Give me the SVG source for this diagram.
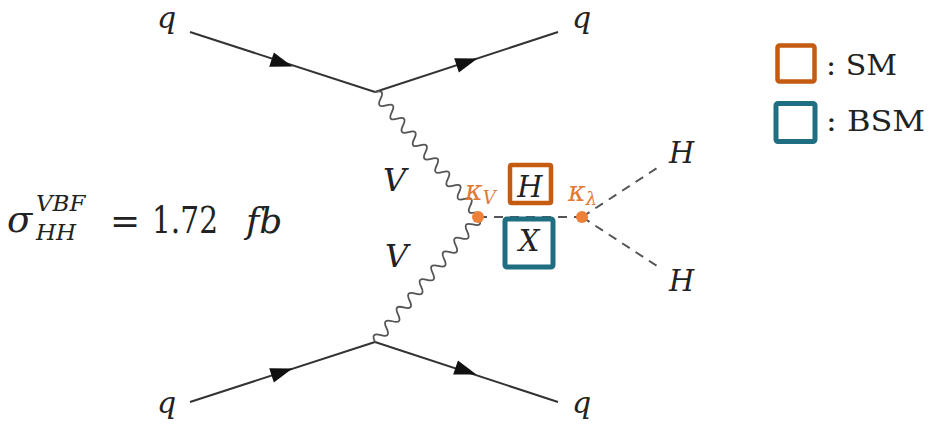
<svg xmlns="http://www.w3.org/2000/svg" width="930" height="425" viewBox="0 0 930 425">
<defs>
<style>
.fermion{stroke:#333;stroke-width:2;fill:none}
.boson{stroke:#555;stroke-width:1.8;fill:none}
.scalar{stroke:#555;stroke-width:2;fill:none;stroke-dasharray:9 7}
.lbl{font-family:"DejaVu Serif",serif;font-style:italic;fill:#222}
.rom{font-family:"DejaVu Serif",serif;fill:#222}
.kap{font-family:"DejaVu Serif",serif;font-style:italic;fill:#E07A35}
.leg{font-family:"DejaVu Serif",serif;fill:#222;font-size:28px}
.vtx{fill:#EE8038}
</style>
<path id="arr" d="M11,0 L-11,-7.5 L-11,7.5 Z" fill="#111"/>
</defs>
<g id="connectors">
<line class="fermion" x1="190" y1="32" x2="375" y2="92"/>
<line class="fermion" x1="375" y1="92" x2="558" y2="32"/>
<line class="fermion" x1="190" y1="402" x2="375" y2="342"/>
<line class="fermion" x1="375" y1="342" x2="558" y2="402"/>
<use href="#arr" transform="translate(282,63) rotate(18)"/>
<use href="#arr" transform="translate(467,62) rotate(-18.2)"/>
<use href="#arr" transform="translate(282,372) rotate(-18)"/>
<use href="#arr" transform="translate(466,371) rotate(18.6)"/>
<path class="boson" transform="translate(375,92) rotate(50)" d="M0,0 q4.36,-10 8.72,0 t8.72,0 t8.72,0 t8.72,0 t8.72,0 t8.72,0 t8.72,0 t8.72,0 t8.72,0 t8.72,0 t8.72,0 t8.72,0 t8.72,0 t8.72,0 t8.72,0 t8.72,0 t8.72,0 t8.72,0"/>
<path class="boson" transform="translate(375,342) rotate(-50.2)" d="M0,0 q4.5,-10 9,0 t9,0 t9,0 t9,0 t9,0 t9,0 t9,0 t9,0 t9,0 t9,0 t9,0 t9,0 t9,0 t9,0 t9,0 t9,0 t9,0 t9,0"/>
<line class="scalar" x1="478" y1="217" x2="582" y2="217"/>
<line class="scalar" x1="582" y1="217" x2="657" y2="168"/>
<line class="scalar" x1="582" y1="217" x2="657" y2="266"/>
</g>
<g id="quarks">
<text class="lbl" x="157" y="28" font-size="30">q</text>
<text class="lbl" x="572" y="28" font-size="30">q</text>
<text class="lbl" x="157" y="413" font-size="30">q</text>
<text class="lbl" x="572" y="413" font-size="30">q</text>
</g>
<g id="bosons">
<text class="lbl" x="383" y="191" font-size="32">V</text>
<text class="lbl" x="385" y="267" font-size="32">V</text>
</g>
<g id="vertex-v">
<circle class="vtx" cx="478" cy="217" r="6"/>
<text class="kap" x="465" y="200" font-size="27">κ<tspan font-size="18" dy="4">V</tspan></text>
</g>
<g id="vertex-lambda">
<circle class="vtx" cx="582" cy="217" r="6"/>
<text class="kap" x="568" y="201" font-size="27">κ<tspan font-size="18" dy="4">λ</tspan></text>
</g>
<g id="box-h">
<rect x="510" y="165" width="41" height="38" fill="none" stroke="#C55A11" stroke-width="4.5" rx="1.5"/>
<text class="lbl" x="530" y="197" font-size="29" text-anchor="middle">H</text>
</g>
<g id="box-x">
<rect x="505" y="219" width="48" height="48" fill="none" stroke="#1F6E82" stroke-width="5" rx="2"/>
<text class="lbl" x="529" y="251" font-size="29" text-anchor="middle">X</text>
</g>
<g id="higgs">
<text class="lbl" x="669" y="163" font-size="29">H</text>
<text class="lbl" x="669" y="291" font-size="29">H</text>
</g>
<g id="legend">
<rect x="777.5" y="45.5" width="37" height="36" fill="none" stroke="#C55A11" stroke-width="4.5" rx="2"/>
<text class="leg" x="826" y="75" textLength="71" lengthAdjust="spacingAndGlyphs">: SM</text>
<rect x="776" y="103.5" width="39" height="38" fill="none" stroke="#1F6E82" stroke-width="5" rx="2"/>
<text class="leg" x="826" y="131" textLength="99" lengthAdjust="spacingAndGlyphs">: BSM</text>
</g>
<g id="formula">
<text class="lbl" x="7" y="232" font-size="37">σ</text>
<text class="lbl" x="36" y="211" font-size="23">VBF</text>
<text class="lbl" x="36" y="240" font-size="23">HH</text>
<text class="rom" x="110" y="233" font-size="36">=</text>
<text class="rom" x="152" y="233" font-size="37" textLength="66" lengthAdjust="spacingAndGlyphs">1.72</text>
<text class="lbl" x="246" y="233" font-size="36">fb</text>
</g>
</svg>
